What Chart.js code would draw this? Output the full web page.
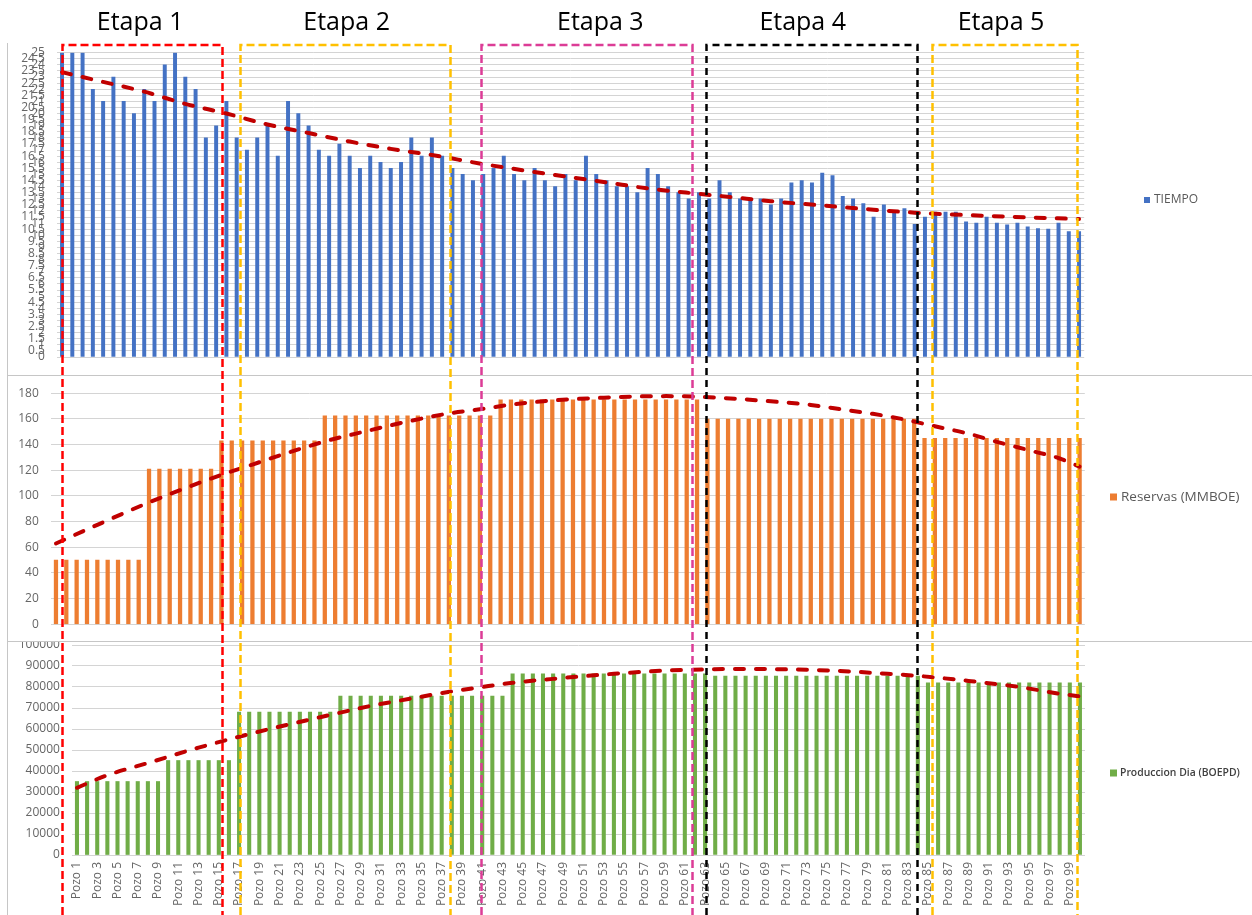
<!DOCTYPE html>
<html>
<head>
<meta charset="utf-8">
<title>Etapas de perforación por pozo</title>
<script src="https://cdn.jsdelivr.net/npm/chart.js@4.4.1/dist/chart.umd.min.js"></script>
<style>
  html, body { margin: 0; padding: 0; background: #fff; }
  #page { position: relative; width: 1252px; height: 915px; overflow: hidden; background: #fff; }
  #page canvas { position: absolute; left: 0; }
  .rule { position: absolute; background: #c6c6c6; }
  .etapa { position: absolute; top: 8px; font: 25px "Open Sans", sans-serif; line-height: 25px;
           color: #000; white-space: nowrap; transform: translateX(-50%); }
  #stages { pointer-events: none; }
</style>
</head>
<body>
<div id="page">
  <canvas id="cTiempo"   width="1252" height="332" style="top:43px"></canvas>
  <canvas id="cReservas" width="1252" height="265" style="top:376px"></canvas>
  <canvas id="cProd"     width="1252" height="274" style="top:641px"></canvas>
  <div class="rule" style="left:7px;top:43px;width:1px;height:872px"></div>
  <div class="rule" style="left:7px;top:375px;width:1245px;height:1px"></div>
  <div class="rule" style="left:7px;top:641px;width:1245px;height:1px"></div>
  <canvas id="stages" width="1252" height="915" style="top:0"></canvas>
</div>
<script>
// ---- categories ----
const pozos = Array.from({ length: 100 }, (_, i) => 'Pozo ' + (i + 1));

// ---- series: TIEMPO ----
const tiempo = [
  25, 25, 25, 22, 21, 23, 21, 20, 22, 21,
  24, 25, 23, 22, 18, 19, 21, 18, 17, 18,
  19, 16.5, 21, 20, 19, 17, 16.5, 17.5, 16.5, 15.5,
  16.5, 16, 15.5, 16, 18, 16.5, 18, 16.5, 15.5, 15,
  14.5, 15, 15.5, 16.5, 15, 14.5, 15.5, 14.5, 14, 15,
  14.5, 16.5, 15, 14.5, 14, 14, 13.5, 15.5, 15, 14,
  13.5, 13, 13.5, 13, 14.5, 13.5, 13, 13, 13, 12.5,
  13, 14.3, 14.5, 14.3, 15.1, 14.9, 13.2, 13, 12.6, 11.5,
  12.5, 11.9, 12.2, 10.9, 11.5, 11.9, 11.9, 11.9, 11.1, 11,
  11.5, 11, 10.85, 11, 10.7, 10.55, 10.5, 11, 10.3, 10.3
];

// ---- series: Reservas (MMBOE) ----
const reservas = [
  50, 50, 50, 50, 50, 50, 50, 50, 50, 121,
  121, 121, 121, 121, 121, 121, 143, 143, 143, 143,
  143, 143, 143, 143, 143, 143, 162.5, 162.5, 162.5, 162.5,
  162.5, 162.5, 162.5, 162.5, 162.5, 162.5, 162.5, 162.5, 162.5, 162.5,
  162.5, 162.5, 162.5, 175, 175, 175, 175, 175, 175, 175,
  175, 175, 175, 175, 175, 175, 175, 175, 175, 175,
  175, 175, 175, 160, 160, 160, 160, 160, 160, 160,
  160, 160, 160, 160, 160, 160, 160, 160, 160, 160,
  160, 160, 160, 160, 145, 145, 145, 145, 145, 145,
  145, 145, 145, 145, 145, 145, 145, 145, 145, 145
];

// ---- series: Produccion Dia (BOEPD) ----
const produccion = [
  35000, 35000, 35000, 35000, 35000, 35000, 35000, 35000, 35000, 45000,
  45000, 45000, 45000, 45000, 45000, 45000, 68000, 68000, 68000, 68000,
  68000, 68000, 68000, 68000, 68000, 68000, 75700, 75700, 75700, 75700,
  75700, 75700, 75700, 75700, 75700, 75700, 75700, 75700, 75700, 75700,
  75700, 75700, 75700, 86300, 86300, 86300, 86300, 86300, 86300, 86300,
  86300, 86300, 86300, 86300, 86300, 86300, 86300, 86300, 86300, 86300,
  86300, 86300, 86300, 85200, 85200, 85200, 85200, 85200, 85200, 85200,
  85200, 85200, 85200, 85200, 85200, 85200, 85200, 85200, 85200, 85200,
  85200, 85200, 85200, 85200, 82000, 82000, 82000, 82000, 82000, 82000,
  82000, 82000, 82000, 82000, 82000, 82000, 82000, 82000, 82000, 82000
];

// ---- trend lines: [pozo number, value] ----
const tiempoTrend = [
  [1, 23.4], [5, 22.6], [9, 21.8], [13, 20.8], [17, 20.0], [21, 19.1], [25, 18.4],
  [29, 17.7], [33, 17.1], [37, 16.6], [42, 15.85], [49, 14.95], [54, 14.35], [58, 13.85],
  [63, 13.4], [66, 13.15], [70, 12.8], [75, 12.45], [80, 12.1], [84, 11.86], [89, 11.66],
  [95, 11.47], [100, 11.34]
];
const reservasTrend = [
  [1, 63], [5, 77.5], [10, 95], [13, 104.5], [17, 116.5], [20, 124.5], [23, 132.5],
  [27, 142.5], [31, 150.5], [35, 158], [39, 164.3], [42, 167.5], [45, 171.2], [49, 174.4],
  [54, 176.6], [57, 177.5], [60, 177.8], [63, 177.3], [67, 175.6], [71, 173.2], [74, 170.9],
  [77, 167.5], [80, 164], [83, 159.7], [86, 154.3], [89, 149], [92, 142.2], [95, 135.8],
  [98, 129.4], [100, 122.9]
];
const produccionTrend = [
  [1, 32000], [4, 38000], [8, 43800], [13, 51100], [17, 56300], [20, 60000], [25, 65600],
  [30, 71000], [34, 74500], [37, 77100], [41, 80000], [44, 82000], [49, 84300], [54, 86300],
  [59, 87800], [63, 88400], [67, 88600], [71, 88400], [76, 87700], [81, 86300], [84, 85300],
  [89, 82900], [94, 80000], [98, 76800], [100, 75500]
];

// ---- stages (category ranges, 0-based positions on the shared x axis) ----
const stageNames  = ['Etapa 1', 'Etapa 2', 'Etapa 3', 'Etapa 4', 'Etapa 5'];
const stageFrom   = [0, 17.33, 40.79, 62.69, 84.69];
const stageTo     = [15.57, 37.77, 61.33, 83.23, 98.8];
const stageTextAt = [7.6, 27.7, 52.4, 72.1, 91.4];
const stageColors = ['#ff0000', '#ffc000', '#dc3c96', '#000000', '#ffc000'];

// ---- helpers ----
function trendSeries(points) {
  const out = new Array(pozos.length).fill(null);
  points.forEach(([n, v]) => { out[n - 1] = v; });
  return out;
}

const AXIS_FONT = { family: '"Open Sans", sans-serif', size: 12 };
const AXIS_COLOR = '#666666';
const GRID_COLOR = '#d4d4d4';
const TREND_COLOR = '#c00000';

// legend drawn beside the plot: swatch + dataset label (optionally sized to a text width)
const sideLegend = {
  id: 'sideLegend',
  afterDraw(chart, args, opts) {
    const ds = chart.data.datasets[0];
    const ctx = chart.ctx;
    ctx.save();
    ctx.fillStyle = ds.backgroundColor;
    ctx.fillRect(opts.x, opts.y - opts.box / 2, opts.box, opts.box);
    let size = opts.size;
    const fontFor = (s) => `${opts.weight} ${s}px "Open Sans", sans-serif`;
    ctx.font = fontFor(size);
    if (opts.textWidth) {
      size = size * opts.textWidth / ctx.measureText(ds.label).width;
      ctx.font = fontFor(size);
    }
    ctx.fillStyle = opts.color;
    ctx.textBaseline = 'middle';
    ctx.textAlign = 'left';
    ctx.fillText(ds.label, opts.x + opts.box + opts.gap, opts.y);
    ctx.restore();
  }
};

function makePanel(canvasId, cfg) {
  return new Chart(document.getElementById(canvasId), {
    type: 'bar',
    data: {
      labels: pozos,
      datasets: [
        {
          type: 'bar',
          label: cfg.label,
          data: cfg.values,
          backgroundColor: cfg.color,
          barThickness: cfg.barThickness,
          order: 2
        },
        {
          type: 'line',
          label: 'Tendencia',
          data: trendSeries(cfg.trend),
          borderColor: TREND_COLOR,
          borderWidth: 4,
          borderDash: [9, 12],
          borderCapStyle: 'round',
          pointRadius: 0,
          spanGaps: true,
          cubicInterpolationMode: 'monotone',
          fill: false,
          order: 1
        }
      ]
    },
    options: {
      responsive: false,
      animation: false,
      events: [],
      layout: { padding: cfg.padding },
      plugins: {
        legend: { display: false },
        tooltip: { enabled: false },
        sideLegend: cfg.legend
      },
      scales: {
        x: cfg.xAxis,
        y: {
          min: 0,
          max: cfg.max,
          border: { display: false },
          grid: { color: GRID_COLOR, lineWidth: 1, drawTicks: false },
          ticks: {
            stepSize: cfg.step,
            autoSkip: false,
            padding: 12,
            color: AXIS_COLOR,
            font: AXIS_FONT,
            callback: (v) => String(v)
          },
          afterFit(scale) {
            scale.width = cfg.axisWidth;
            scale.paddingTop = 0;
            scale.paddingBottom = 0;
          }
        }
      }
    },
    plugins: [sideLegend]
  });
}

const hiddenX = { display: false, grid: { display: false } };

const chartTiempo = makePanel('cTiempo', {
  label: 'TIEMPO',
  values: tiempo,
  trend: tiempoTrend,
  color: '#4472c4',
  barThickness: 3.3,
  max: 25,
  step: 0.5,
  axisWidth: 56.9,
  padding: { left: 0, top: 9.7, right: 167.8, bottom: 18 },
  xAxis: hiddenX,
  legend: { x: 1144, y: 157, box: 6, gap: 4, size: 12, weight: 400, color: '#595959' }
});

makePanel('cReservas', {
  label: 'Reservas (MMBOE)',
  values: reservas,
  trend: reservasTrend,
  color: '#ed7d31',
  barThickness: 3.6,
  max: 180,
  step: 20,
  axisWidth: 50.8,
  padding: { left: 0, top: 17.3, right: 167.2, bottom: 16.7 },
  xAxis: hiddenX,
  legend: { x: 1110, y: 121, box: 7, gap: 4, size: 13.5, weight: 400, color: '#595959' }
});

makePanel('cProd', {
  label: 'Produccion Dia (BOEPD)',
  values: produccion,
  trend: produccionTrend,
  color: '#70ad47',
  barThickness: 3.4,
  max: 100000,
  step: 10000,
  axisWidth: 71.9,
  padding: { left: 0, top: 4, right: 167, bottom: 0 },
  xAxis: {
    grid: { display: false, drawTicks: false },
    border: { display: false },
    ticks: {
      autoSkip: false,
      minRotation: 90,
      maxRotation: 90,
      padding: 7,
      color: AXIS_COLOR,
      font: AXIS_FONT,
      callback(value, index) { return index % 2 === 0 ? this.getLabelForValue(value) : ''; }
    },
    afterFit(scale) {
      scale.height = 60;
      scale.paddingLeft = 0;
      scale.paddingRight = 0;
    }
  },
  legend: { x: 1110, y: 132, box: 7, gap: 3, size: 11, weight: 600, textWidth: 120, color: '#404040' }
});

// ---- stage frames and titles, placed on the top panel's category axis ----
(function drawStages() {
  const xs = chartTiempo.scales.x;
  const ctx = document.getElementById('stages').getContext('2d');
  const page = document.getElementById('page');
  const top = 45, bottom = 915;
  stageNames.forEach((name, i) => {
    const x0 = Math.round(xs.getPixelForValue(stageFrom[i])) + 0.5;
    const x1 = Math.round(xs.getPixelForValue(stageTo[i])) + 0.5;
    ctx.save();
    ctx.strokeStyle = stageColors[i];
    ctx.lineWidth = 2.5;
    ctx.setLineDash(stageColors[i] === '#000000' ? [7, 5] : [8, 4]);
    ctx.beginPath();
    ctx.moveTo(x0, bottom);
    ctx.lineTo(x0, top);
    ctx.lineTo(x1, top);
    ctx.lineTo(x1, bottom);
    ctx.stroke();
    ctx.restore();

    const t = document.createElement('div');
    t.className = 'etapa';
    t.textContent = name;
    t.style.left = xs.getPixelForValue(stageTextAt[i]) + 'px';
    page.appendChild(t);
  });
})();
</script>
</body>
</html>
